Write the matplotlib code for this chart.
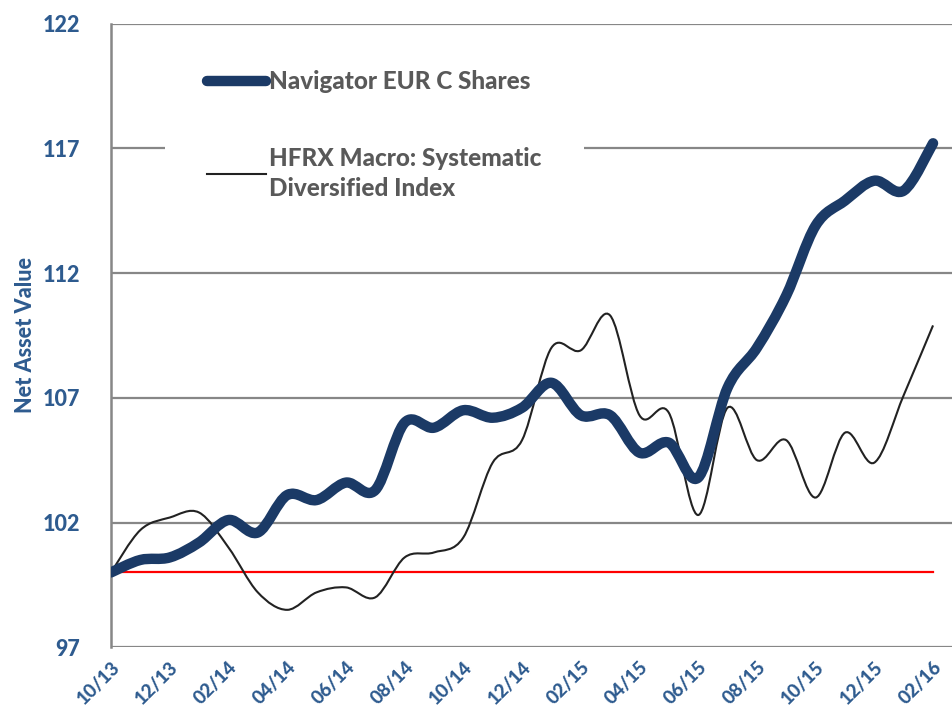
import numpy as np
import matplotlib
matplotlib.use("Agg")
import matplotlib.pyplot as plt
from matplotlib.path import Path
from matplotlib.patches import PathPatch
from matplotlib.lines import Line2D

# ---- data ----
months = ["10/13", "11/13", "12/13", "01/14", "02/14", "03/14", "04/14", "05/14",
          "06/14", "07/14", "08/14", "09/14", "10/14", "11/14", "12/14", "01/15",
          "02/15", "03/15", "04/15", "05/15", "06/15", "07/15", "08/15", "09/15",
          "10/15", "11/15", "12/15", "01/16", "02/16"]
navigator = [100.0, 100.5, 100.6, 101.2, 102.1, 101.6, 103.1, 102.9, 103.6, 103.3,
             106.0, 105.8, 106.5, 106.2, 106.6, 107.6, 106.3, 106.3, 104.8, 105.2,
             103.8, 107.4, 109.0, 111.1, 113.9, 114.9, 115.7, 115.3, 117.2]
hfrx = [100.0, 101.7, 102.2, 102.4, 101.0, 99.2, 98.5, 99.2, 99.4, 99.0,
        100.6, 100.8, 101.4, 104.4, 105.3, 109.0, 108.9, 110.3, 106.3, 106.4,
        102.3, 106.6, 104.5, 105.3, 103.0, 105.6, 104.4, 107.1, 109.9]
baseline = 100.0
yticks = [97, 102, 107, 112, 117, 122]
series_names = ["Navigator EUR C Shares", "HFRX Macro: Systematic\nDiversified Index"]

NAVY = "#1B3A66"
BLUE_TXT = "#2E5B8F"
GRAY_TXT = "#595959"
GRID = "#878787"
FONT = "Lato"
WEIGHT = 900


def smooth_path(xs, ys):
    """Excel-like smoothed line as cubic Bezier path through the data points."""
    pts = np.column_stack([xs, ys]).astype(float)
    n = len(pts)
    verts = [pts[0]]
    codes = [Path.MOVETO]
    for i in range(n - 1):
        p0 = pts[i - 1] if i > 0 else pts[i]
        p1 = pts[i]
        p2 = pts[i + 1]
        p3 = pts[i + 2] if i + 2 < n else pts[i + 1]
        c1 = p1 + (p2 - p0) / 6.0
        c2 = p2 - (p3 - p1) / 6.0
        verts += [c1, c2, p2]
        codes += [Path.CURVE4] * 3
    return Path(verts, codes)


fig = plt.figure(figsize=(9.53, 7.13), dpi=100)
ax = fig.add_axes([0.1165, 0.0922, 1 - 0.1165, 0.967 - 0.0922])

x = np.arange(len(months))
ax.set_xlim(0, 28.68)
ax.set_ylim(97, 122)

# gridlines
ax.set_yticks(yticks)
ax.yaxis.grid(True, color=GRID, linewidth=1.6, zorder=0)
ax.set_axisbelow(True)
for s in ["top", "right", "bottom"]:
    ax.spines[s].set_visible(False)
ax.spines["left"].set_color(GRID)
ax.spines["left"].set_linewidth(1.8)

# baseline
ax.plot([x[0], x[-1]], [baseline, baseline], color="#FF0000", linewidth=1.6, zorder=2)

# series
p_hfrx = PathPatch(smooth_path(x, hfrx), facecolor="none", edgecolor="#222222",
                   linewidth=1.5, zorder=3)
ax.add_patch(p_hfrx)
p_nav = PathPatch(smooth_path(x, navigator), facecolor="none", edgecolor=NAVY,
                  linewidth=7.5, zorder=4, capstyle="round", joinstyle="round")
ax.add_patch(p_nav)

# ticks
ax.set_xticks(x[::2])
ax.set_xticklabels(months[::2], rotation=45, ha="right", va="top",
                   rotation_mode="anchor", fontfamily=FONT, fontweight=WEIGHT,
                   fontsize=13.5, color=BLUE_TXT)
ax.tick_params(axis="x", length=0, pad=8)
ax.tick_params(axis="y", length=0, pad=22)
for lbl in ax.get_yticklabels():
    lbl.set_fontfamily(FONT)
    lbl.set_fontweight(WEIGHT)
    lbl.set_fontsize(15.5)
    lbl.set_color(BLUE_TXT)

ax.set_ylabel("Net Asset Value", fontfamily=FONT, fontweight=WEIGHT, fontsize=15.5,
              color=BLUE_TXT, labelpad=5)

# legend
h1 = Line2D([], [], color=NAVY, linewidth=7.5, solid_capstyle="round")
h2 = Line2D([], [], color="#222222", linewidth=1.5)
leg = ax.legend([h1, h2], series_names, loc="upper left",
                bbox_to_anchor=(0.064, 0.993), borderaxespad=0.0,
                frameon=True, fancybox=False,
                facecolor="white", edgecolor="none", framealpha=1.0,
                handlelength=2.4, handletextpad=0.12, labelspacing=2.2,
                borderpad=1.75, prop={"family": FONT, "weight": WEIGHT, "size": 17.5})
for t in leg.get_texts():
    t.set_color(GRAY_TXT)
    t.set_linespacing(1.35)
leg.set_zorder(5)

fig.savefig("out.png", dpi=100)
